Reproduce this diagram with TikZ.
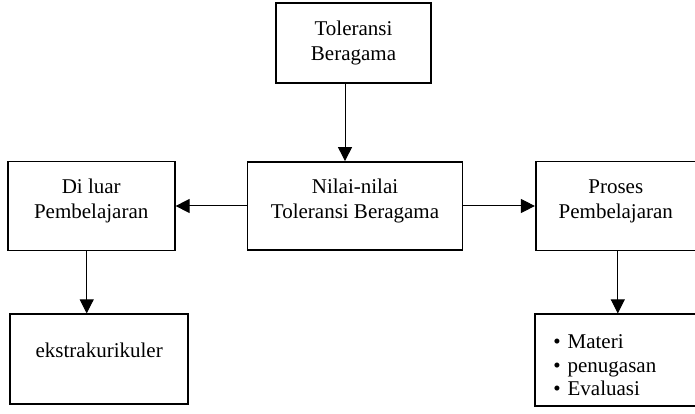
\documentclass[tikz,border=0pt]{standalone}
\usepackage{fontspec}
\setmainfont{Liberation Serif}
\usetikzlibrary{arrows.meta,positioning}

\begin{document}
\begin{tikzpicture}[x=1pt,y=1pt,>={Triangle[length=14pt,width=14pt]},node distance=70pt,
    box/.style={draw,line width=1.8pt,align=center,inner sep=0pt,font=\fontsize{21}{25}\selectfont},
    link/.style={->,line width=1pt}]
  \useasboundingbox (0,0) rectangle (695,414);
  \node[box,minimum width=215pt,minimum height=88pt,text depth=14pt] (nilai) at (355,208) {Nilai-nilai\\Toleransi Beragama};
  \node[box,minimum width=155pt,minimum height=80pt,above=77pt of nilai,xshift=-1.5pt] (toleransi) {Toleransi\\Beragama};
  \node[box,minimum width=167pt,minimum height=89pt,text depth=14pt,left=71pt of nilai] (luar) {Di luar\\Pembelajaran};
  \node[box,minimum width=160pt,minimum height=89pt,text depth=14pt,right=71.5pt of nilai] (proses) {Proses\\Pembelajaran};
  \node[box,minimum width=178pt,minimum height=90pt,text depth=18pt,below=62pt of luar,xshift=8pt] (ekstra) {ekstrakurikuler};
  \node[box,minimum height=92pt,text width=125pt,inner xsep=18pt,align=left,text height=24pt,
        font=\fontsize{21}{23.5}\selectfont,below=62pt of proses] (kegiatan)
        {\textbullet~Materi\\\textbullet~penugasan\\\textbullet~Evaluasi};
  \draw[link] ([xshift=-8.5pt]toleransi.south) -- ([xshift=-8.5pt]toleransi.south |- nilai.north);
  \draw[link] (nilai) -- (luar);
  \draw[link] (nilai) -- (proses);
  \draw[link] ([xshift=-4.5pt]luar.south) -- ([xshift=-4.5pt]luar.south |- ekstra.north);
  \draw[link] ([xshift=2pt]proses.south) -- ([xshift=2pt]proses.south |- kegiatan.north);
\end{tikzpicture}
\end{document}
